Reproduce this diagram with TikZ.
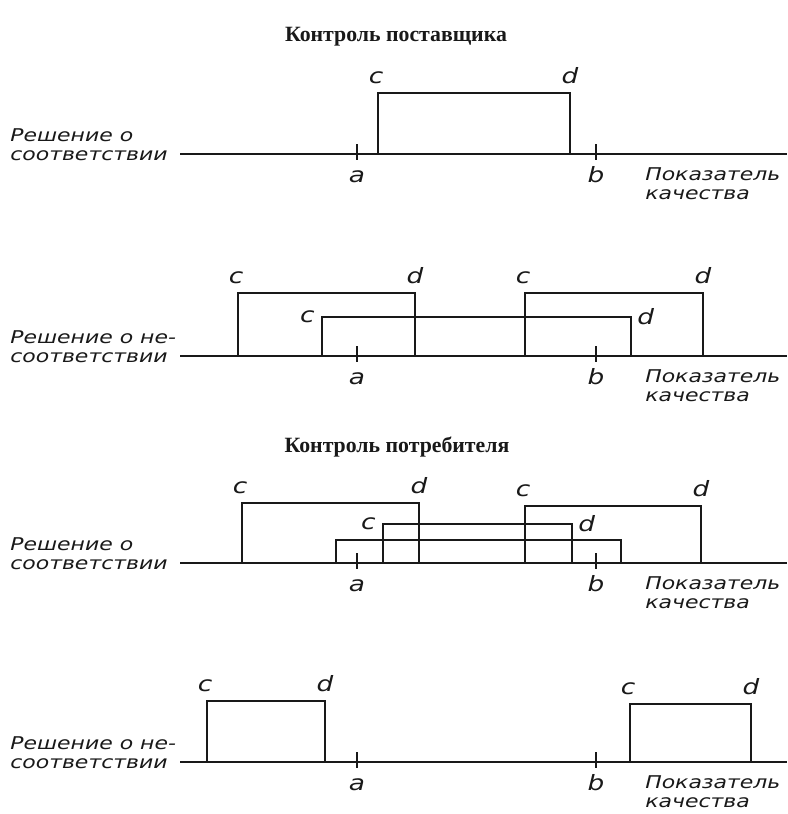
\documentclass[tikz,border=0pt]{standalone}
\usepackage{fontspec}
\setmainfont{Liberation Serif}
\newfontfamily\draftfont{DejaVu Sans}[FakeStretch=1.25]
\usetikzlibrary{positioning}
\colorlet{ink}{black!90}
\tikzset{
  axisline/.style={draw=ink, line width=1.3pt},
  tickline/.style={draw=ink, line width=1pt},
  bar/.style={draw=ink, line width=1.5pt},
  title/.style={font=\bfseries\fontsize{15.5}{17}\selectfont, text=ink},
  sidetext/.style={
    font=\draftfont\itshape\fontsize{12.5}{13.5}\selectfont,
    text=ink,
    align=left,
    inner sep=0pt
  },
  letter/.style={font=\draftfont\itshape\fontsize{15}{17}\selectfont, text=ink, inner sep=0pt}
}
% axis with the marks a, b and both captions
\newcommand{\QualityAxis}[3]{%
  \draw[axisline] (180,#2) coordinate (#1o) -- (787,#2) coordinate (#1e);
  \node[sidetext, anchor=west] (#1dec) at (10,#2-9.5) {#3\\соответствии};
  \node[sidetext, anchor=west] (#1qual) at (645,#2+30) {Показатель\\качества};
  \draw[tickline] (357,#2-10) coordinate (#1ta) -- (357,#2+6);
  \draw[tickline] (596,#2-10) coordinate (#1tb) -- (596,#2+6);
  \node[letter, anchor=base] (#1a) at (357,#2+28) {a};
  \node[letter, anchor=base] (#1b) at (596,#2+28) {b};
}
% interval from c to d, letters on top
\newcommand{\RangeBox}[5]{%
  \draw[bar] (#2,#5) |- (#3,#4) -- (#3,#5);
  \node[letter, anchor=base] (#1c) at (#2-2,#4-10) {c};
  \node[letter, anchor=base] (#1d) at (#3,#4-10) {d};
}
% interval from c to d, letters at the sides
\newcommand{\SideRangeBox}[5]{%
  \draw[bar] (#2,#5) |- (#3,#4) -- (#3,#5);
  \node[letter, anchor=east] (#1c) at (#2-7,#4) {c};
  \node[letter, anchor=west] (#1d) at (#3+6,#4) {d};
}

\begin{document}
\begin{tikzpicture}[x=0.25mm,y=-0.25mm]
  \fill[white] (0,0) rectangle (787,814);

  % supplier
  \node[title] (supplier) at (396,37) {Контроль поставщика};

  \QualityAxis{p}{154}{Решение о}
  \RangeBox{pr}{378}{570}{93}{154}

  \QualityAxis{q}{356}{Решение о не-}
  \RangeBox{qr}{238}{415}{293}{356}
  \SideRangeBox{qs}{322}{631}{317}{356}
  \RangeBox{qt}{525}{703}{293}{356}

  % consumer
  \node[title] (consumer) at (397,447) {Контроль потребителя};

  \QualityAxis{r}{563}{Решение о}
  \RangeBox{rr}{242}{419}{503}{563}
  \RangeBox{rt}{525}{701}{506}{563}
  \SideRangeBox{rs}{383}{572}{524}{563}
  \draw[bar] (336,563) |- (621,540) -- (621,563);

  \QualityAxis{s}{762}{Решение о не-}
  \RangeBox{sr}{207}{325}{701}{762}
  \RangeBox{st}{630}{751}{704}{762}
\end{tikzpicture}
\end{document}
